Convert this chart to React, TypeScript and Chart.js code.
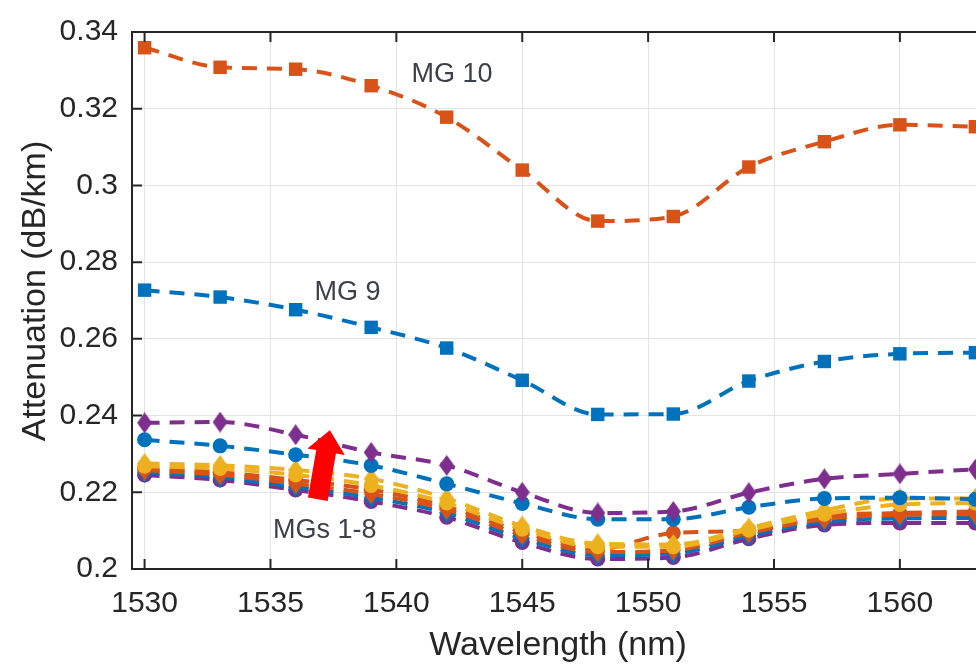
import React, { useEffect, useRef } from 'react';
import { Chart, registerables } from 'chart.js';
Chart.register(...registerables);

const wavelengths = [1530, 1533, 1536, 1539, 1542, 1545, 1548, 1551, 1554, 1557, 1560, 1563];

const mg10 = [0.3359, 0.3308, 0.3303, 0.3260, 0.3178, 0.3040, 0.2907, 0.2919, 0.3048, 0.3114, 0.3158, 0.3153];
const mg9 = [0.2727, 0.2709, 0.2676, 0.2630, 0.2576, 0.2492, 0.2403, 0.2404, 0.2490, 0.2541, 0.2561, 0.2564];
const mg8 = [0.2381, 0.2383, 0.2350, 0.2304, 0.2270, 0.2200, 0.2146, 0.2150, 0.2199, 0.2235, 0.2248, 0.2260];
const mg7 = [0.2337, 0.2321, 0.2298, 0.2270, 0.2222, 0.2171, 0.2130, 0.2130, 0.2161, 0.2184, 0.2186, 0.2182];
const mg6 = [0.2275, 0.2270, 0.2258, 0.2235, 0.2184, 0.2112, 0.2066, 0.2064, 0.2107, 0.2153, 0.2184, 0.2184];
const mg5 = [0.2268, 0.2262, 0.2245, 0.2218, 0.2172, 0.2104, 0.2058, 0.2058, 0.2102, 0.2143, 0.2168, 0.2172];
const mg4 = [0.2262, 0.2252, 0.2232, 0.2207, 0.2163, 0.2097, 0.2052, 0.2094, 0.2100, 0.2138, 0.2146, 0.2150];
const mg3 = [0.2258, 0.2246, 0.2222, 0.2196, 0.2155, 0.2089, 0.2044, 0.2049, 0.2094, 0.2130, 0.2141, 0.2143];
const mg2 = [0.2252, 0.2239, 0.2214, 0.2186, 0.2146, 0.2080, 0.2036, 0.2040, 0.2087, 0.2123, 0.2132, 0.2133];
const mg1 = [0.2245, 0.2232, 0.2206, 0.2176, 0.2135, 0.2069, 0.2026, 0.2030, 0.2079, 0.2115, 0.2120, 0.2120];

const xTicks = [1530, 1535, 1540, 1545, 1550, 1555, 1560];
const yTicks = [0.2, 0.22, 0.24, 0.26, 0.28, 0.3, 0.32, 0.34];

const xTitle = 'Wavelength (nm)';
const yTitle = 'Attenuation (dB/km)';

const labels = [
  { text: 'MG 10', x: 1540.6, y: 0.329 },
  { text: 'MG 9', x: 1536.75, y: 0.2722 },
  { text: 'MGs 1-8', x: 1535.1, y: 0.2100 },
];
const arrowTail = { x: 1536.88, y: 0.2182 };
const arrowTip = { x: 1537.36, y: 0.2362 };

const BLUE = '#0072BD';
const ORANGE = '#D95319';
const YELLOW = '#EDB120';
const PURPLE = '#7E2F8E';
const FONT = "'Liberation Sans', Arial, Helvetica, sans-serif";

function makeDiamond(color: string) {
  const w = 15, h = 21;
  const c = document.createElement('canvas');
  c.width = w; c.height = h;
  const g = c.getContext('2d')!;
  g.fillStyle = color;
  g.beginPath();
  g.moveTo(w / 2, 0);
  g.lineTo(w, h / 2);
  g.lineTo(w / 2, h);
  g.lineTo(0, h / 2);
  g.closePath();
  g.fill();
  return c;
}

const overlay = {
  id: 'overlay',
  afterDraw(chart: any) {
    const { ctx, chartArea: a, scales } = chart;
    const x = scales.x, y = scales.y;
    ctx.save();
    ctx.strokeStyle = '#262626';
    ctx.lineWidth = 2;
    ctx.beginPath();
    ctx.rect(a.left, a.top, a.right - a.left, a.bottom - a.top);
    ctx.stroke();
    const tl = 10;
    ctx.beginPath();
    xTicks.forEach((v) => {
      const px = x.getPixelForValue(v);
      ctx.moveTo(px, a.bottom); ctx.lineTo(px, a.bottom - tl);
      ctx.moveTo(px, a.top); ctx.lineTo(px, a.top + tl);
    });
    yTicks.forEach((v) => {
      const py = y.getPixelForValue(v);
      ctx.moveTo(a.left, py); ctx.lineTo(a.left + tl, py);
      ctx.moveTo(a.right, py); ctx.lineTo(a.right - tl, py);
    });
    ctx.stroke();

    ctx.fillStyle = '#262626';
    ctx.font = `34px ${FONT}`;
    ctx.textAlign = 'center';
    ctx.textBaseline = 'alphabetic';
    ctx.fillText(xTitle, 558, 655);
    ctx.save();
    ctx.translate(45, 291);
    ctx.rotate(-Math.PI / 2);
    ctx.fillText(yTitle, 0, 0);
    ctx.restore();

    ctx.fillStyle = '#3c4048';
    ctx.font = `27px ${FONT}`;
    ctx.textAlign = 'left';
    ctx.textBaseline = 'middle';
    labels.forEach((l) => {
      ctx.fillText(l.text, x.getPixelForValue(l.x), y.getPixelForValue(l.y));
    });

    const tx = x.getPixelForValue(arrowTail.x), ty = y.getPixelForValue(arrowTail.y);
    const hx = x.getPixelForValue(arrowTip.x), hy = y.getPixelForValue(arrowTip.y);
    const dx = hx - tx, dy = hy - ty;
    const len = Math.hypot(dx, dy);
    const ux = dx / len, uy = dy / len;
    const nx = -uy, ny = ux;
    const sw = 10, hw = 19, hl = 22;
    const bx = hx - ux * hl, by = hy - uy * hl;
    ctx.fillStyle = '#ff0000';
    ctx.beginPath();
    ctx.moveTo(tx + nx * sw, ty + ny * sw);
    ctx.lineTo(bx + nx * sw, by + ny * sw);
    ctx.lineTo(bx + nx * hw, by + ny * hw);
    ctx.lineTo(hx, hy);
    ctx.lineTo(bx - nx * hw, by - ny * hw);
    ctx.lineTo(bx - nx * sw, by - ny * sw);
    ctx.lineTo(tx - nx * sw, ty - ny * sw);
    ctx.closePath();
    ctx.fill();
    ctx.restore();
  },
};

export default function App() {
  const ref = useRef<HTMLCanvasElement>(null);
  useEffect(() => {
    if (!ref.current) return;
    const mk = (arr: number[], color: string, style: any, radius: number) => ({
      data: wavelengths.map((w, i) => ({ x: w, y: arr[i] })),
      borderColor: color,
      backgroundColor: color,
      borderWidth: 4,
      borderDash: [15, 10],
      pointStyle: style,
      pointRadius: radius,
      pointBorderWidth: 0,
      pointBorderColor: color,
      pointBackgroundColor: color,
      cubicInterpolationMode: 'monotone',
      fill: false,
    });
    const datasets = [
      mk(mg10, ORANGE, 'rect', 9.5),
      mk(mg9, BLUE, 'rect', 9.5),
      mk(mg8, PURPLE, makeDiamond(PURPLE), 8),
      mk(mg7, BLUE, 'circle', 7.5),
      mk(mg6, YELLOW, makeDiamond(YELLOW), 8),
      mk(mg5, YELLOW, 'circle', 7.5),
      mk(mg4, ORANGE, 'circle', 7.5),
      mk(mg3, ORANGE, makeDiamond(ORANGE), 8),
      mk(mg2, BLUE, makeDiamond(BLUE), 8),
      mk(mg1, PURPLE, 'circle', 7.5),
    ];
    const chart = new Chart(ref.current, {
      type: 'line',
      data: { datasets },
      options: {
        animation: false,
        responsive: false,
        devicePixelRatio: 1,
        layout: { padding: { top: 20, right: 12, left: 0, bottom: 0 }, autoPadding: false },
        plugins: { legend: { display: false }, tooltip: { enabled: false } },
        scales: {
          x: {
            type: 'linear',
            min: 1529.5,
            max: 1563.5,
            afterBuildTicks: (s: any) => { s.ticks = xTicks.map((v) => ({ value: v })); },
            afterFit: (s: any) => { s.height = 96; },
            grid: { color: '#e3e3e3', lineWidth: 1, drawTicks: false },
            border: { display: false },
            ticks: {
              font: { family: FONT, size: 30 },
              color: '#262626',
              padding: 17,
              maxRotation: 0,
              autoSkip: false,
              callback: (v: any) => String(v),
            },
          },
          y: {
            type: 'linear',
            min: 0.2,
            max: 0.34,
            afterBuildTicks: (s: any) => { s.ticks = yTicks.map((v) => ({ value: v })); },
            afterFit: (s: any) => { s.width = 132; },
            grid: { color: '#e3e3e3', lineWidth: 1, drawTicks: false },
            border: { display: false },
            ticks: {
              font: { family: FONT, size: 30 },
              color: '#262626',
              padding: 14,
              autoSkip: false,
              callback: (v: any) => String(parseFloat(Number(v).toFixed(2))),
            },
          },
        },
      } as any,
      plugins: [overlay],
    });
    return () => chart.destroy();
  }, []);
  return (
    <div style={{ position: 'fixed', left: 0, top: 0, width: 976, height: 665, overflow: 'hidden', background: '#fff' }}>
      <canvas ref={ref} width={1000} height={665} style={{ width: 1000, height: 665, display: 'block' }} />
    </div>
  );
}
